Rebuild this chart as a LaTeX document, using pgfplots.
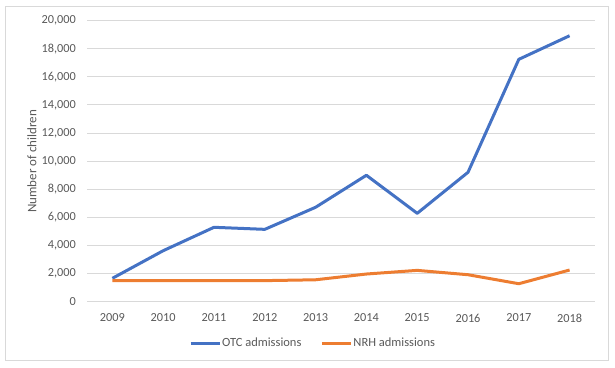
\documentclass[border=0pt]{standalone}
\usepackage{pgfplots}
\pgfplotsset{compat=1.18}
\usepackage{fontspec}
\setmainfont{Carlito}
\definecolor{otc}{HTML}{4472C4}
\definecolor{nrh}{HTML}{ED7D31}
\definecolor{gridc}{HTML}{D9D9D9}
\definecolor{txt}{HTML}{595959}
\begin{document}
\begin{tikzpicture}[x=1pt,y=1pt]
\path (0,0) rectangle (615,367);
\draw[color=gridc, line width=1pt] (5.5,6.5) rectangle (608.5,360.5);
\begin{axis}[
  at={(87pt,65.3pt)}, anchor=south west,
  scale only axis, width=508pt, height=281pt,
  xmin=2008.5, xmax=2018.5, ymin=0, ymax=20000,
  xtick={2009,2010,...,2018}, ytick={0,2000,...,20000},
  scaled y ticks=false,
  /pgf/number format/assume math mode=true,
  x tick label style={/pgf/number format/1000 sep=},
  y tick label style={/pgf/number format/1000 sep={,}},
  ymajorgrids, grid style={gridc, line width=1pt},
  axis line style={draw=none}, major tick length=0pt,
  tick label style={font=\fontsize{12.3}{14}\selectfont, text=txt, inner sep=0pt},
  yticklabel style={anchor=east, xshift=-11pt},
  xticklabel style={anchor=north, yshift=-12pt},
  ylabel={Number of children},
  every axis y label/.style={at={(axis description cs:-0.1083,0.5)}, anchor=center, rotate=90, font=\fontsize{13}{15}\selectfont, text=txt},
  legend columns=2,
  legend style={at={(axis description cs:0.444,-0.147)}, anchor=center, draw=none, fill=none,
    font=\fontsize{12.5}{14}\selectfont, text=txt,
    /tikz/every even column/.append style={column sep=18pt},
    nodes={inner sep=1pt}},
  legend image code/.code={\draw[#1, line width=3pt] (0pt,0pt) -- (29pt,0pt);},
]
\addplot[otc, line width=3pt, line join=round] coordinates {
(2009,1665) (2010,3630) (2011,5295) (2012,5150) (2013,6720) (2014,9000) (2015,6290) (2016,9210) (2017,17250) (2018,18930)};
\addlegendentry{OTC admissions}
\addplot[nrh, line width=3pt, line join=round] coordinates {
(2009,1500) (2010,1500) (2011,1500) (2012,1500) (2013,1560) (2014,1970) (2015,2230) (2016,1920) (2017,1280) (2018,2255)};
\addlegendentry{NRH admissions}
\end{axis}
\end{tikzpicture}
\end{document}
